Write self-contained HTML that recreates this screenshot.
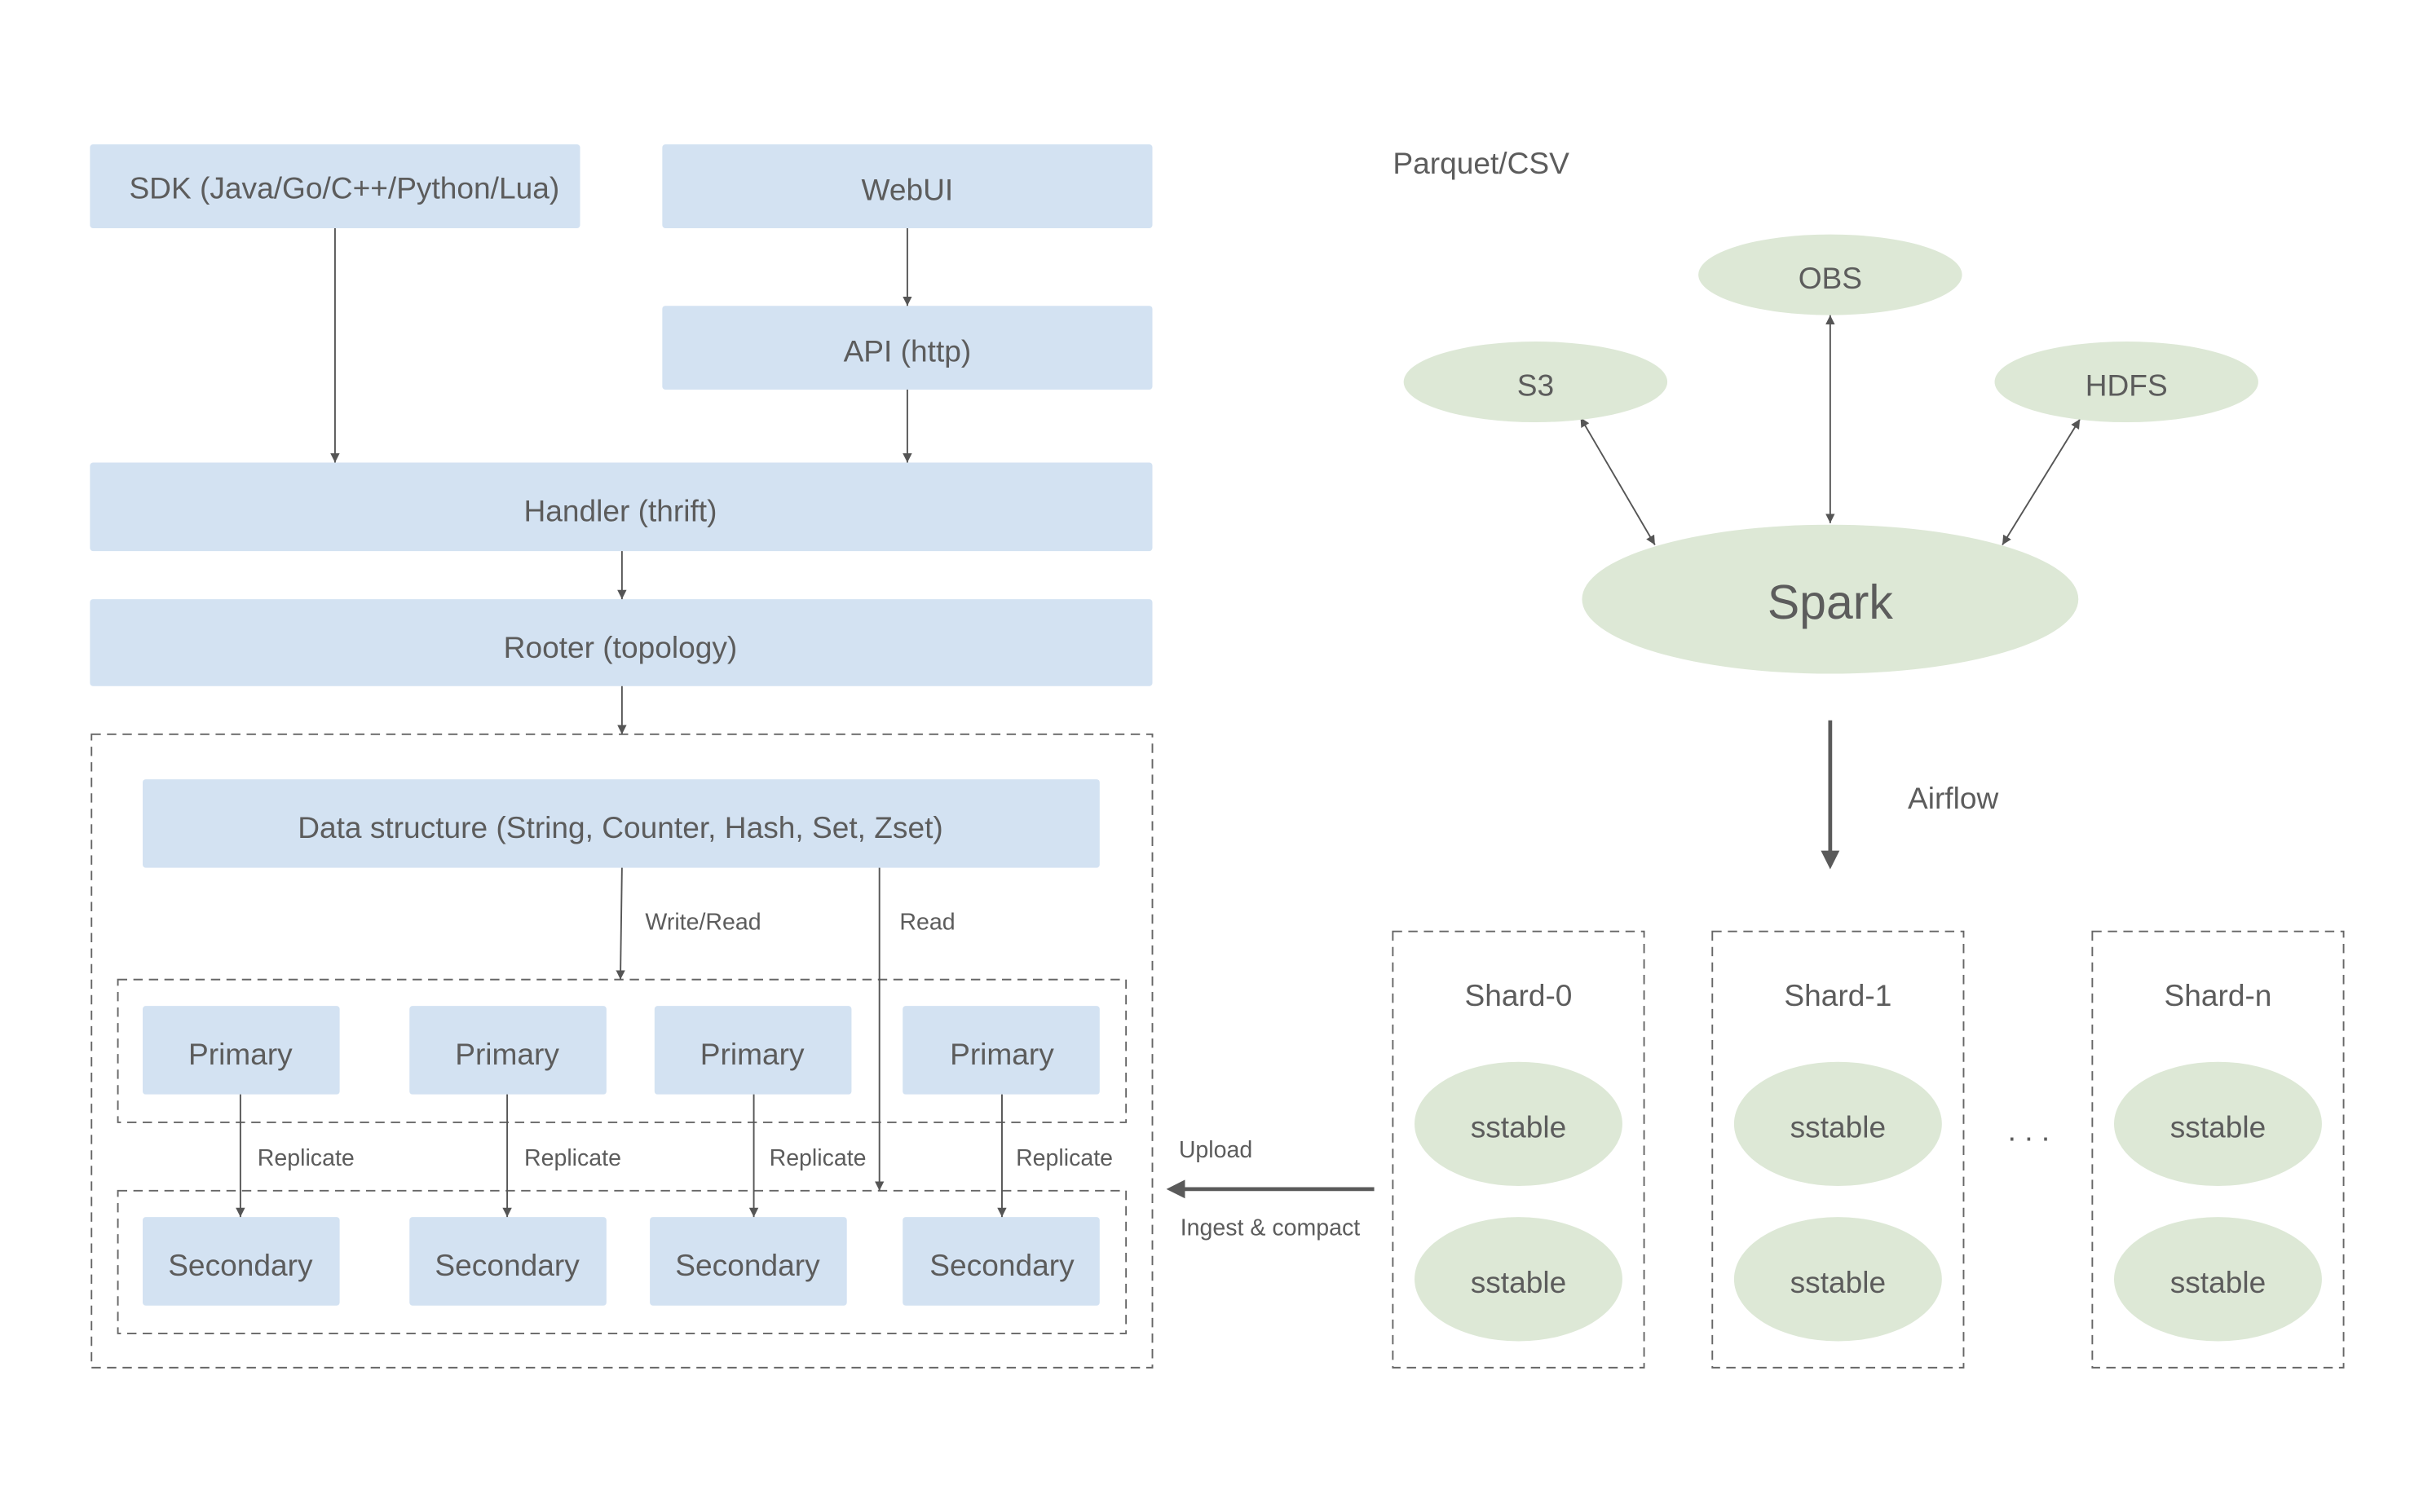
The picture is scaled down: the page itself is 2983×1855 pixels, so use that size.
<!DOCTYPE html>
<html><head><meta charset="utf-8"><style>
html,body{margin:0;padding:0;background:#fff;}
svg{display:block;}
text{font-family:"Liberation Sans","DejaVu Sans",sans-serif;fill:#5c5c5c;}
</style></head><body>
<svg width="2983" height="1855" viewBox="0 0 1568 974" preserveAspectRatio="none" xmlns="http://www.w3.org/2000/svg">
<defs>
<marker id="a" markerWidth="8" markerHeight="8" refX="6" refY="3" orient="auto-start-reverse" markerUnits="userSpaceOnUse"><path d="M0,0 L6,3 L0,6 z" fill="#555"/></marker>
<marker id="b" markerWidth="16" markerHeight="16" refX="4" refY="6" orient="auto" markerUnits="userSpaceOnUse"><path d="M0,0 L12,6 L0,12 z" fill="#5a5a5a"/></marker>
</defs>
<g fill="#d3e2f2">
<rect x="58" y="93" width="316" height="54" rx="2"/>
<rect x="427" y="93" width="316" height="54" rx="2"/>
<rect x="427" y="197" width="316" height="54" rx="2"/>
<rect x="58" y="298" width="685" height="57" rx="2"/>
<rect x="58" y="386" width="685" height="56" rx="2"/>
<rect x="92" y="502" width="617" height="57" rx="2"/>
<rect x="92" y="648" width="127" height="57" rx="2"/>
<rect x="264" y="648" width="127" height="57" rx="2"/>
<rect x="422" y="648" width="127" height="57" rx="2"/>
<rect x="582" y="648" width="127" height="57" rx="2"/>
<rect x="92" y="784" width="127" height="57" rx="2"/>
<rect x="264" y="784" width="127" height="57" rx="2"/>
<rect x="419" y="784" width="127" height="57" rx="2"/>
<rect x="582" y="784" width="127" height="57" rx="2"/>
</g>
<g fill="none" stroke="#666" stroke-width="1" stroke-dasharray="6,4">
<rect x="59" y="473" width="684" height="408"/>
<rect x="76" y="631" width="650" height="92"/>
<rect x="76" y="767" width="650" height="92"/>
<rect x="898" y="600" width="162" height="281"/>
<rect x="1104" y="600" width="162" height="281"/>
<rect x="1349" y="600" width="162" height="281"/>
</g>
<g stroke="#555" stroke-width="1" fill="none" marker-end="url(#a)">
<line x1="216" y1="147" x2="216" y2="298"/>
<line x1="585" y1="147" x2="585" y2="197"/>
<line x1="585" y1="251" x2="585" y2="298"/>
<line x1="401" y1="355" x2="401" y2="386"/>
<line x1="401" y1="442" x2="401" y2="473"/>
<line x1="401" y1="559" x2="400" y2="631"/>
<line x1="567" y1="559" x2="567" y2="767"/>
<line x1="155" y1="705" x2="155" y2="784"/>
<line x1="327" y1="705" x2="327" y2="784"/>
<line x1="486" y1="705" x2="486" y2="784"/>
<line x1="646" y1="705" x2="646" y2="784"/>
<line x1="1019" y1="269" x2="1067" y2="351" marker-start="url(#a)"/>
<line x1="1180" y1="203" x2="1180" y2="337" marker-start="url(#a)"/>
<line x1="1341" y1="270" x2="1291" y2="351" marker-start="url(#a)"/>
</g>
<line x1="1180" y1="464" x2="1180" y2="552" stroke="#5a5a5a" stroke-width="2.5" marker-end="url(#b)"/>
<line x1="886" y1="766" x2="760" y2="766" stroke="#5a5a5a" stroke-width="2.5" marker-end="url(#b)"/>
<g fill="#dde8d6">
<ellipse cx="1180" cy="177" rx="85" ry="26"/>
<ellipse cx="990" cy="246" rx="85" ry="26"/>
<ellipse cx="1371" cy="246" rx="85" ry="26"/>
<ellipse cx="1180" cy="386" rx="160" ry="48"/>
<ellipse cx="979" cy="724" rx="67" ry="40"/>
<ellipse cx="979" cy="824" rx="67" ry="40"/>
<ellipse cx="1185" cy="724" rx="67" ry="40"/>
<ellipse cx="1185" cy="824" rx="67" ry="40"/>
<ellipse cx="1430" cy="724" rx="67" ry="40"/>
<ellipse cx="1430" cy="824" rx="67" ry="40"/>
</g>
<g font-size="19.5" text-anchor="middle" dominant-baseline="central">
<text x="222" y="121">SDK (Java/Go/C++/Python/Lua)</text>
<text x="585" y="122">WebUI</text>
<text x="585" y="226">API (http)</text>
<text x="400" y="329">Handler (thrift)</text>
<text x="400" y="417">Rooter (topology)</text>
<text x="400" y="533">Data structure (String, Counter, Hash, Set, Zset)</text>
<text x="155" y="679">Primary</text>
<text x="327" y="679">Primary</text>
<text x="485" y="679">Primary</text>
<text x="646" y="679">Primary</text>
<text x="155" y="815">Secondary</text>
<text x="327" y="815">Secondary</text>
<text x="482" y="815">Secondary</text>
<text x="646" y="815">Secondary</text>
<text x="1180" y="179">OBS</text>
<text x="990" y="248">S3</text>
<text x="1371" y="248">HDFS</text>
<text x="1180" y="388" font-size="31">Spark</text>
<text x="979" y="641">Shard-0</text>
<text x="1185" y="641">Shard-1</text>
<text x="1430" y="641">Shard-n</text>
<text x="979" y="726">sstable</text>
<text x="979" y="826">sstable</text>
<text x="1185" y="726">sstable</text>
<text x="1185" y="826">sstable</text>
<text x="1430" y="726">sstable</text>
<text x="1430" y="826">sstable</text>
<text x="1308" y="728">. . .</text>
</g>
<g font-size="19.5" dominant-baseline="central">
<text x="898" y="105">Parquet/CSV</text>
<text x="1230" y="514">Airflow</text>
</g>
<g font-size="15" dominant-baseline="central">
<text x="416" y="594">Write/Read</text>
<text x="580" y="594">Read</text>
<text x="166" y="746">Replicate</text>
<text x="338" y="746">Replicate</text>
<text x="496" y="746">Replicate</text>
<text x="655" y="746">Replicate</text>
<text x="760" y="741">Upload</text>
<text x="761" y="791">Ingest &amp; compact</text>
</g>
</svg>
</body></html>
